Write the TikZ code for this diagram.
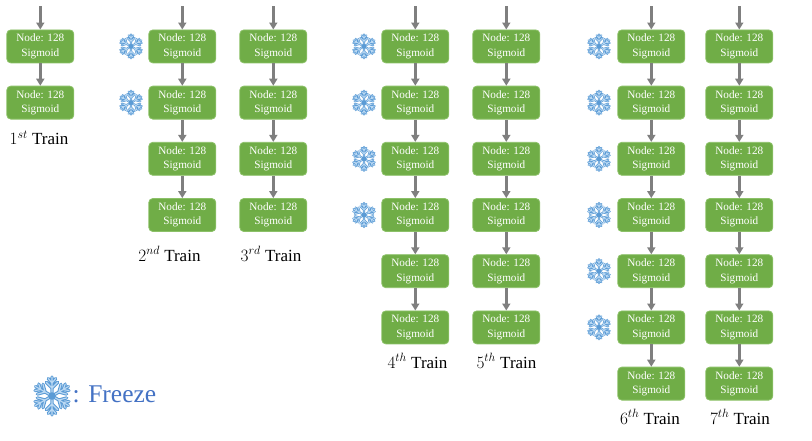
\documentclass[tikz,border=0pt]{standalone}
\usepackage{amsmath,amssymb}
\usepackage{fontspec}
\setmainfont{Liberation Serif}
\usepackage{tikz}
\usetikzlibrary{arrows.meta}
\definecolor{layergreen}{HTML}{70AD47}
\definecolor{layeredge}{HTML}{8CC168}
\definecolor{arrowgray}{HTML}{7F7F7F}
\definecolor{snowblue}{HTML}{5B9BD5}
\definecolor{snowpale}{HTML}{BBD9F3}
\definecolor{freezeblue}{HTML}{4472C4}
\tikzset{
  layer/.style={draw=layeredge, line width=0.8pt, fill=layergreen, rounded corners=4pt,
    minimum width=67pt, minimum height=33pt, inner sep=0pt, align=center,
    text=white, font=\fontsize{11.2}{14.5}\selectfont},
  flow/.style={-{Triangle[length=7pt,width=8pt]}, draw=arrowgray, fill=arrowgray, line width=2.8pt},
  trainlabel/.style={inner sep=0pt, font=\fontsize{17}{20}\selectfont},
  pics/snowflake/.style={code={
    \foreach \lw/\shade in {0.17/snowblue,0.06/snowpale} {
      \foreach \ang in {30,90,...,330} {
        \draw [\shade, line width=#1*\lw pt, line cap=round, rotate=\ang] (0,0)--(#1,0)
          (0.42*#1,0)--(0.72*#1,-0.3*#1) (0.42*#1,0)--(0.72*#1,0.3*#1)
          (0.68*#1,0)--(0.92*#1,-0.2*#1) (0.68*#1,0)--(0.92*#1,0.2*#1);
      }
    }
    \fill [snowblue] (0,0) circle (#1*0.2);
  }}
}
\begin{document}
\begin{tikzpicture}[x=1pt,y=-1pt]
  \useasboundingbox (0,0) rectangle (812,440);
  % columns: name / x / number of layers
  \foreach \col/\cx/\num in {a/40.3/2,b/182.3/4,c/273.3/4,d/415.3/6,e/506.3/6,f/651.3/7,g/739.3/7} {
    \coordinate (\col0) at (\cx,6);
    \foreach \i [remember=\i as \prev (initially 0)] in {1,...,\num} {
      \pgfmathsetmacro{\cy}{46.4+56.2*(\i-1)}
      \node [layer] (\col\i) at (\cx,\cy) {Node: 128\\Sigmoid};
      \draw [flow] (\col\prev) -- (\col\i);
    }
  }
  % frozen layers
  \foreach \col/\cx/\num in {b/131/2,d/364/4,f/599/6} {
    \foreach \i in {1,...,\num} {
      \path (\cx,0 |- \col\i) pic {snowflake=12};
    }
  }
  \node [trainlabel] (train1) at (39,138) {$1^{st}$ Train};
  \node [trainlabel] (train2) at (169.5,254) {$2^{nd}$ Train};
  \node [trainlabel] (train3) at (271,254) {$3^{rd}$ Train};
  \node [trainlabel] (train4) at (417.5,361) {$4^{th}$ Train};
  \node [trainlabel] (train5) at (506.5,361) {$5^{th}$ Train};
  \node [trainlabel] (train6) at (650,417) {$6^{th}$ Train};
  \node [trainlabel] (train7) at (740,417) {$7^{th}$ Train};
  % legend
  \path (52,396) pic {snowflake=19};
  \node [text=freezeblue, inner sep=0pt, anchor=west, font=\fontsize{25.5}{28}\selectfont] (freeze) at (72.5,394) {: Freeze};
\end{tikzpicture}
\end{document}
